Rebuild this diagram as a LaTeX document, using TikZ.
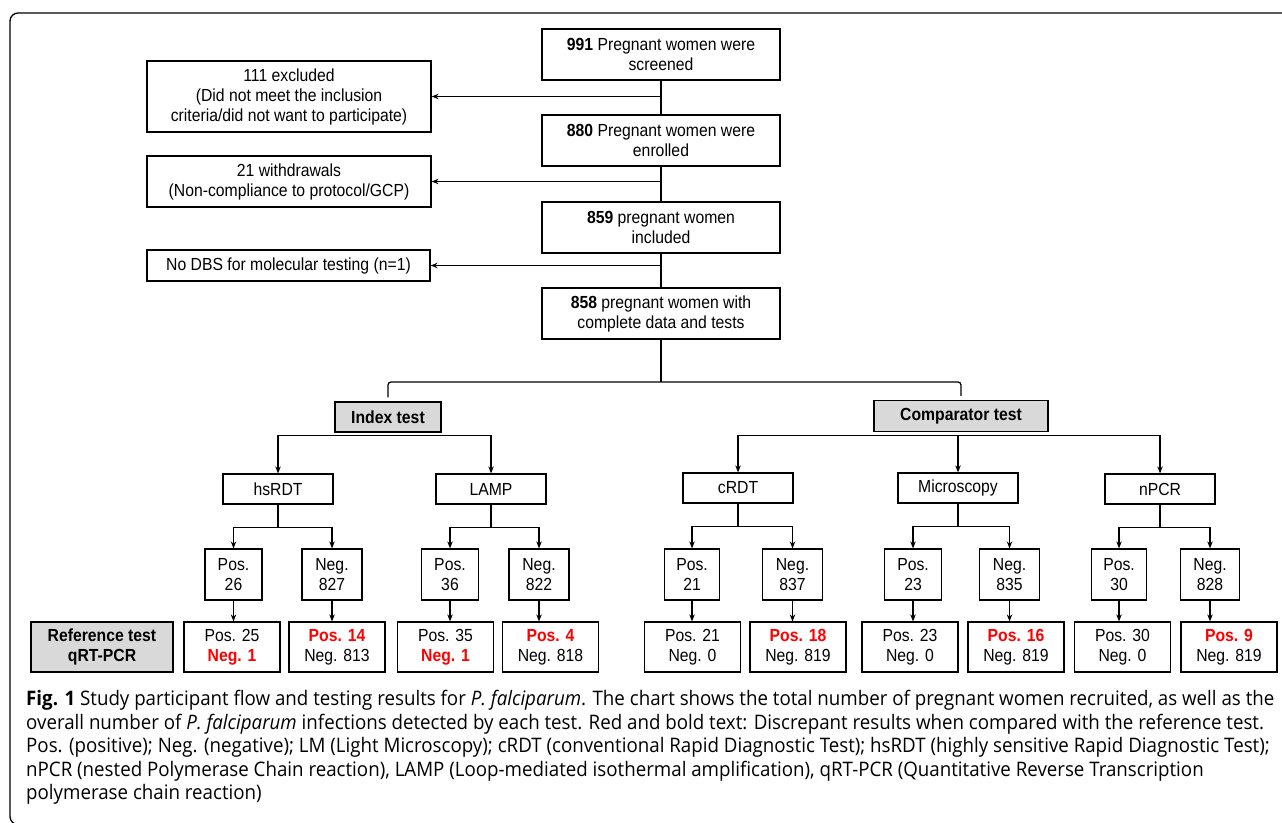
\documentclass[tikz,border=0pt]{standalone}
\usepackage{fontspec}
\setmainfont{Liberation Sans}[FakeStretch=0.9]
\newfontfamily\capfont{Open Sans}[FakeStretch=0.936]
\usetikzlibrary{arrows.meta,calc}
\definecolor{boxgray}{HTML}{D9D9D9}
\definecolor{discred}{HTML}{FF0000}
\newcommand\redb[1]{\textcolor{discred}{\bfseries #1}}
\begin{document}
\begin{tikzpicture}[x=1pt,y=-1pt,
  box/.style={draw=black, line width=1.2pt, inner sep=0pt, align=center,
    font=\fontsize{17.5}{20}\selectfont},
  sz/.style 2 args={minimum width=#1, minimum height=#2},
  graybox/.style={box, fill=boxgray, font=\fontsize{17.5}{20}\selectfont\bfseries},
  conn/.style={line width=1.3pt, draw=black},
  arr/.style={conn, -{Stealth[length=7pt,width=5.5pt]}}]
\useasboundingbox (0,0) rectangle (1282,822);
% frame
\draw[line width=1.3pt, rounded corners=8pt] (1284,13) -- (10,13) -- (10,824.5) -- (1284,824.5);

% main column
\node[box, sz={238}{51}] (s991) at (661,54.5) {\textbf{991} Pregnant women were\\screened};
\node[box, sz={238}{51}] (e880) at (661,140.5) {\textbf{880} Pregnant women were\\enrolled};
\node[box, sz={238}{51}] (i859) at (661,227.5) {\textbf{859} pregnant women\\included};
\node[box, sz={238}{51}] (c858) at (661,313.5) {\textbf{858} pregnant women with\\complete data and tests};

% side boxes
\node[box, sz={284}{71}] (ex111) at (289,96.5) {111 excluded\\(Did not meet the inclusion\\criteria/did not want to participate)};
\node[box, sz={284}{51}] (wd21) at (289,181.5) {21 withdrawals\\(Non-compliance to protocol/GCP)};
\node[box, sz={283}{31}] (nodbs) at (288.5,265.5) {No DBS for molecular testing (n=1)};

\draw[conn] (s991) -- (e880);
\draw[conn] (e880) -- (i859);
\draw[conn] (i859) -- (c858);
\draw[arr] (s991.south |- ex111.east) -- (ex111.east);
\draw[arr] (e880.south |- wd21.east) -- (wd21.east);
\draw[arr] (i859.south |- nodbs.east) -- (nodbs.east);

% test groups
\node[graybox, sz={106}{30}] (idx) at (388,417) {Index test};
\node[graybox, sz={174}{31}] (cmp) at (961,416) {Comparator test};
\coordinate (br) at (661,382);
\draw[conn] (c858) -- (br);
\draw[conn, rounded corners=3pt] ($(idx.north)+(0,-4)$) |- (br) -| ($(cmp.north)+(0,-4)$);

% second level
\node[box, sz={110}{30}] (hs) at (278,489) {hsRDT};
\node[box, sz={110}{30}] (lamp) at (491,489) {LAMP};
\node[box, sz={110}{30}] (crdt) at (738,488) {cRDT};
\node[box, sz={120}{30}] (micro) at (958,488) {Microscopy};
\node[box, sz={110}{30}] (npcr) at (1160,489) {nPCR};

\draw[arr] ($(hs.north)+(0,-38)$) -- (hs.north);
\draw[arr] ($(hs.north)+(0,-38)$) -| (lamp.north);
\draw[arr] ($(crdt.north)+(0,-37)$) -- (crdt.north);
\draw[arr] ($(crdt.north)+(0,-37)$) -| (micro.north);
\draw[arr] ($(crdt.north)+(0,-37)$) -| (npcr.north);

% third level
\node[box, sz={57}{51}] (p26) at (233.5,574.5) {Pos.\\26};
\node[box, sz={60}{51}] (n827) at (332,574.5) {Neg.\\827};
\node[box, sz={57}{51}] (p36) at (450,574.5) {Pos.\\36};
\node[box, sz={60}{51}] (n822) at (539,574.5) {Neg.\\822};
\node[box, sz={55}{51}] (p21) at (692,574.5) {Pos.\\21};
\node[box, sz={60}{51}] (n837) at (792.5,574.5) {Neg.\\837};
\node[box, sz={57}{51}] (p23) at (913,574.5) {Pos.\\23};
\node[box, sz={60}{51}] (n835) at (1009.5,574.5) {Neg.\\835};
\node[box, sz={55}{51}] (p30) at (1119,574.5) {Pos.\\30};
\node[box, sz={59}{51}] (n828) at (1210,574.5) {Neg.\\828};

\foreach \m/\p/\n in {hs/p26/n827, lamp/p36/n822, crdt/p21/n837, micro/p23/n835, npcr/p30/n828}{
  \draw[arr] (\m.south) -- ++(0,23) -| (\p.north);
  \draw[arr] ($(\m.south)+(0,23)$) -| (\n.north);
}

% reference row
\node[graybox, sz={142}{50}] (ref) at (102,647) {Reference test\\qRT-PCR};
\node[box, sz={96}{50}] (r1) at (232,647) {Pos. 25\\\redb{Neg. 1}};
\node[box, sz={96}{50}] (r2) at (337,647) {\redb{Pos. 14}\\Neg. 813};
\node[box, sz={96}{50}] (r3) at (445.5,647) {Pos. 35\\\redb{Neg. 1}};
\node[box, sz={96}{50}] (r4) at (550.5,647) {\redb{Pos. 4}\\Neg. 818};
\node[box, sz={96}{50}] (r5) at (692.5,647) {Pos. 21\\Neg. 0};
\node[box, sz={96}{50}] (r6) at (798,647) {\redb{Pos. 18}\\Neg. 819};
\node[box, sz={96}{50}] (r7) at (910,647) {Pos. 23\\Neg. 0};
\node[box, sz={96}{50}] (r8) at (1016,647) {\redb{Pos. 16}\\Neg. 819};
\node[box, sz={96}{50}] (r9) at (1122.5,647) {Pos. 30\\Neg. 0};
\node[box, sz={96}{50}] (r10) at (1229,647) {\redb{Pos. 9}\\Neg. 819};

\foreach \a/\b in {p26/r1, n827/r2, p36/r3, n822/r4, p21/r5, n837/r6, p23/r7, n835/r8, p30/r9, n828/r10}{
  \draw[arr] (\a.south) -- (\a.south |- \b.north);
}

% caption
\node[anchor=north west, inner sep=0pt, align=left,
  font=\capfont\fontsize{20}{23.6}\selectfont] (cap) at (26,690)
{\textbf{Fig. 1} Study participant flow and testing results for \textit{P. falciparum}. The chart shows the total number of pregnant women recruited, as well as the\\
overall number of \textit{P. falciparum} infections detected by each test. Red and bold text: Discrepant results when compared with the reference test.\\
Pos. (positive); Neg. (negative); LM (Light Microscopy); cRDT (conventional Rapid Diagnostic Test); hsRDT (highly sensitive Rapid Diagnostic Test);\\
nPCR (nested Polymerase Chain reaction), LAMP (Loop-mediated isothermal amplification), qRT-PCR (Quantitative Reverse Transcription\\
polymerase chain reaction)};
\end{tikzpicture}
\end{document}
